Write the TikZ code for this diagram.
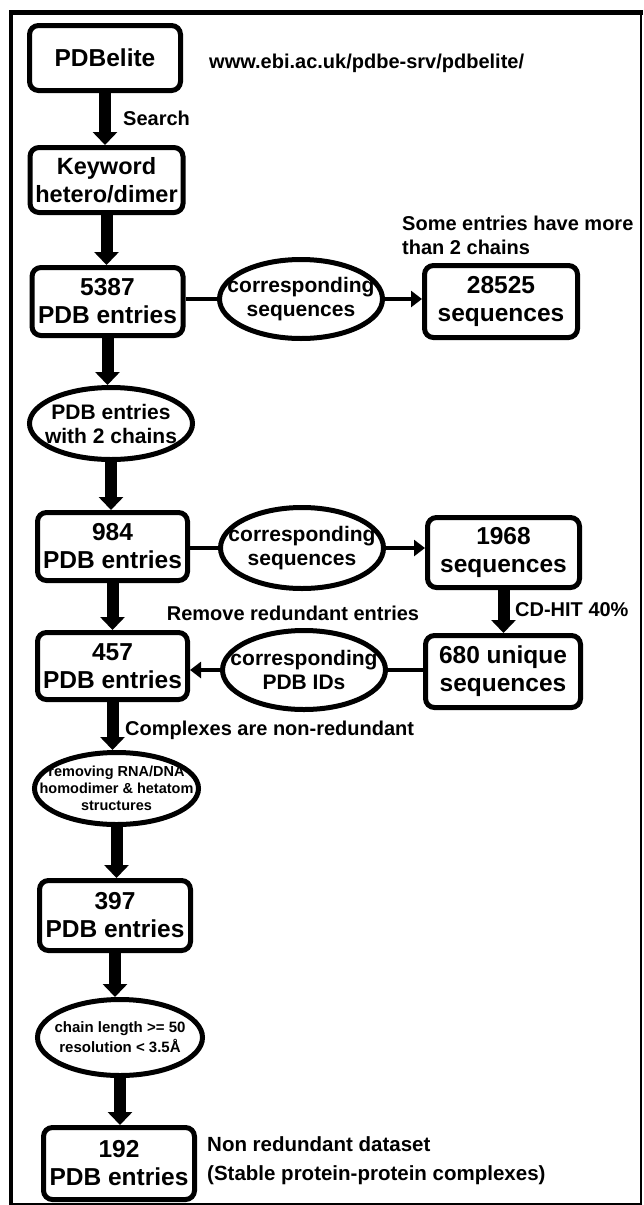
\documentclass[tikz,border=0pt]{standalone}
\usepackage{fontspec}
\setmainfont{Liberation Sans}
\usetikzlibrary{shapes.geometric,arrows.meta}

\begin{document}
\begin{tikzpicture}[x=1pt, y=-1pt,
  stepbox/.style={draw, line width=5pt, rounded corners=9pt, inner sep=0pt, align=center,
    minimum width=151pt, minimum height=68pt, font=\bfseries\fontsize{24.5}{28}\selectfont},
  oval/.style={draw, ellipse, line width=5pt, inner xsep=-25pt, inner ysep=0pt, align=center,
    minimum width=163pt, minimum height=79pt, font=\bfseries\fontsize{21}{24}\selectfont},
  note/.style={inner sep=0pt, font=\bfseries\fontsize{20}{24}\selectfont},
  down/.style={line width=12pt, -{Triangle[length=13pt, width=24pt]}},
  side/.style={line width=4pt, -{Triangle[length=11pt, width=16pt]}},
  link/.style={line width=4pt}]
  \useasboundingbox (0,0) rectangle (643,1205);

  % frame
  \draw[line width=4.5pt] (11,1205) -- (11,12.5) -- (643,12.5);
  \draw[line width=2pt] (641,12.5) -- (641,1204) -- (9,1204);

  % left column
  \node[stepbox, minimum height=65pt] (pdbelite) at (105,58) {PDBelite};
  \node[stepbox, minimum height=65pt, minimum width=153pt, font=\bfseries\fontsize{23.5}{28}\selectfont] (keyword) at (106.5,180) {Keyword\\hetero/dimer};
  \node[stepbox] (n5387) at (107.5,301.5) {5387\\PDB entries};
  \node[oval, minimum height=72pt] (twochains) at (111,423.5) {PDB entries\\with 2 chains};
  \node[stepbox, minimum width=150pt] (n984) at (112.5,546.5) {984\\PDB entries};
  \node[stepbox, minimum width=150pt, minimum height=67pt] (n457) at (112.5,666) {457\\PDB entries};
  \node[oval, minimum width=164pt, minimum height=72pt, font=\bfseries\fontsize{14.5}{17}\selectfont] (removing) at (116.5,788.5) {removing RNA/DNA\\homodimer \& hetatom\\structures};
  \node[stepbox, minimum height=70pt] (n397) at (115,915.5) {397\\PDB entries};
  \node[oval, minimum width=165pt, minimum height=76pt, font=\bfseries\fontsize{15}{20}\selectfont] (chainlen) at (120,1037.5) {chain length >= 50\\resolution < 3.5Å};
  \node[stepbox, minimum height=72pt] (n192) at (119,1163.5) {192\\PDB entries};

  % middle and right
  \node[oval] (corrseqA) at (301,299) {corresponding\\sequences};
  \node[stepbox, minimum width=153pt, minimum height=72pt] (s28525) at (501,301.5) {28525\\sequences};
  \node[oval, minimum height=81pt] (corrseqB) at (302,548) {corresponding\\sequences};
  \node[stepbox, minimum width=152pt, minimum height=70pt] (s1968) at (503.5,552.5) {1968\\sequences};
  \node[oval] (corrpdb) at (304,670) {corresponding\\PDB IDs};
  \node[stepbox, minimum width=155pt, minimum height=72pt] (u680) at (503,671.5) {680 unique\\sequences};

  % labels
  \node[note, anchor=west] (url) at (209,63) {www.ebi.ac.uk/pdbe-srv/pdbelite/};
  \node[note, anchor=west] (search) at (123,118) {Search};
  \node[note, anchor=west, align=left] (more) at (402,235) {Some entries have more\\than 2 chains};
  \node[note] (remove) at (293,613) {Remove redundant entries};
  \node[note, anchor=west] (cdhit) at (515,610) {CD-HIT 40\%};
  \node[note, anchor=west] (complexes) at (125,730) {Complexes are non-redundant};
  \node[note, anchor=west, align=left, font=\bfseries\fontsize{20.5}{29}\selectfont] (dataset) at (207,1160.5) {Non redundant dataset\\(Stable protein-protein complexes)};

  % arrows
  \draw[down] (pdbelite.south) -- (pdbelite.south |- keyword.north);
  \draw[down] (keyword.south) -- (keyword.south |- n5387.north);
  \draw[down] (n5387.south) -- (n5387.south |- twochains.north);
  \draw[down] (twochains.south) -- (twochains.south |- n984.north);
  \draw[down] (n984.south) -- (n984.south |- n457.north);
  \draw[down] (n457.south) -- (n457.south |- removing.north);
  \draw[down] (removing.south) -- (removing.south |- n397.north);
  \draw[down] (n397.south) -- (n397.south |- chainlen.north);
  \draw[down] (chainlen.south) -- (chainlen.south |- n192.north);
  \draw[down] (s1968.south) -- (s1968.south |- u680.north);

  \draw[link] (corrseqA.west -| n5387.east) -- (corrseqA.west);
  \draw[side] (corrseqA.east) -- (corrseqA.east -| s28525.west);
  \draw[link] (corrseqB.west -| n984.east) -- (corrseqB.west);
  \draw[side] (corrseqB.east) -- (corrseqB.east -| s1968.west);
  \draw[link] (corrpdb.east -| u680.west) -- (corrpdb.east);
  \draw[side] (corrpdb.west) -- (corrpdb.west -| n457.east);
\end{tikzpicture}
\end{document}
